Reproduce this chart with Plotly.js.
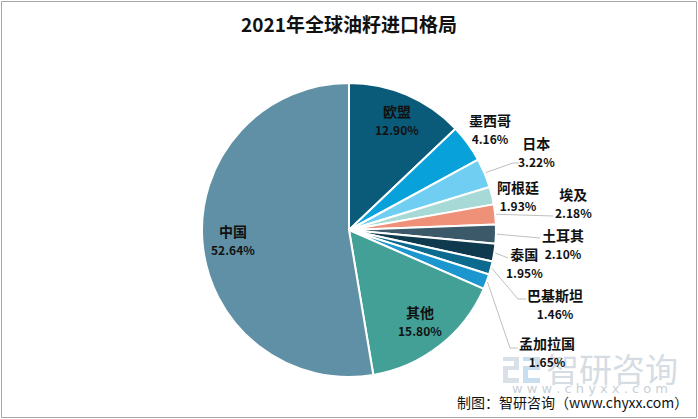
<!DOCTYPE html>
<html><head><meta charset="utf-8">
<script src="https://cdn.plot.ly/plotly-3.0.1.min.js"></script>
<style>html,body{margin:0;padding:0;background:#fff}#chart{width:698px;height:419px}</style>
</head><body><div id="chart"></div>
<script>
// ---- data ----
const categories = ['欧盟','墨西哥','日本','阿根廷','埃及','土耳其','泰国','巴基斯坦','孟加拉国','其他','中国'];
const shares = [12.90, 4.16, 3.22, 1.93, 2.18, 2.10, 1.95, 1.46, 1.65, 15.80, 52.64];
const titleText = '2021年全球油籽进口格局';
const sourceText = '制图：智研咨询（www.chyxx.com）';

// ---- style ----
const sliceColors = ['#0a5a7a','#08a1da','#6fcef2','#a7dad6','#ef9178','#3b5968','#0f3a4e','#0b6a8e','#1b96ce','#42a097','#5f90a6'];
const W = 698, H = 419, CX = 349, CY = 230, R = 147;
const FONT = '"Microsoft YaHei","Noto Sans CJK SC",sans-serif';
const insideLabels = {'欧盟':0.82, '其他':0.78, '中国':0.79};
const outsideLabels = {
  '墨西哥':  {at:[490,128], line:null},
  '日本':    {at:[536,151], line:[[513,163],[519,163]]},
  '阿根廷':  {at:[518,196], line:null},
  '埃及':    {at:[573,203], line:[[553,216]]},
  '土耳其':  {at:[563,243], line:[[540,238]]},
  '泰国':    {at:[524,262], line:[[508,258]]},
  '巴基斯坦':{at:[555,303], line:[[518,299],[526,299]]},
  '孟加拉国':{at:[547,351], line:[[510,348],[518,348]]}
};

const px = x => x / W;
const py = y => 1 - y / H;

const total = shares.reduce((a,b)=>a+b,0);
let cum = 0;
const annotations = [];
const shapes = [];

// watermark (behind labels)
annotations.push({xref:'paper',yref:'paper',x:px(612),y:py(368),text:'智研咨询',showarrow:false,
  font:{family:FONT,size:33,color:'#d5dce3'},xanchor:'center',yanchor:'middle'});
annotations.push({xref:'paper',yref:'paper',x:px(590),y:py(388),text:'w w w . c h y x x . c o m',showarrow:false,
  font:{family:'"DejaVu Sans",sans-serif',size:13,color:'#c9d0d7'},xanchor:'center',yanchor:'middle'});
const logoPath1 = 'M '+px(503)+','+py(357)+' L '+px(519)+','+py(357)+' L '+px(519)+','+py(370)+' L '+px(508)+','+py(370)+' L '+px(508)+','+py(378)+' L '+px(519)+','+py(378)+' L '+px(519)+','+py(383)+' L '+px(503)+','+py(383)+' L '+px(503)+','+py(366)+' L '+px(514)+','+py(366)+' L '+px(514)+','+py(361)+' L '+px(503)+','+py(361)+' Z';
const logoPath2 = 'M '+px(523)+','+py(357)+' L '+px(540)+','+py(357)+' L '+px(540)+','+py(370)+' L '+px(528)+','+py(370)+' L '+px(528)+','+py(378)+' L '+px(540)+','+py(378)+' L '+px(540)+','+py(383)+' L '+px(523)+','+py(383)+' L '+px(523)+','+py(366)+' L '+px(535)+','+py(366)+' L '+px(535)+','+py(361)+' L '+px(523)+','+py(361)+' Z';
shapes.push({type:'path',xref:'paper',yref:'paper',path:logoPath1,line:{width:0},fillcolor:'#d9e0e8',layer:'below'});
shapes.push({type:'path',xref:'paper',yref:'paper',path:logoPath2,line:{width:0},fillcolor:'#c9dff0',layer:'below'});

categories.forEach((name, i) => {
  const mid = (cum + shares[i] / 2) / total * 2 * Math.PI;
  cum += shares[i];
  const label = '<b>' + name + '</b><br><b><span style="font-size:12px">' + shares[i].toFixed(2) + '%</span></b>';
  if (insideLabels[name] !== undefined) {
    const f = insideLabels[name];
    annotations.push({xref:'paper',yref:'paper',
      x:px(CX + f*R*Math.sin(mid)), y:py(CY - f*R*Math.cos(mid)),
      text:label, showarrow:false, align:'center', xanchor:'center', yanchor:'middle',
      font:{family:FONT,size:14,color:'#111'}});
  } else {
    const cfg = outsideLabels[name];
    annotations.push({xref:'paper',yref:'paper',x:px(cfg.at[0]),y:py(cfg.at[1]),
      text:label, showarrow:false, align:'center', xanchor:'center', yanchor:'middle',
      font:{family:FONT,size:14,color:'#111'}});
    if (cfg.line) {
      const sx = CX + (R+1)*Math.sin(mid), sy = CY - (R+1)*Math.cos(mid);
      let p = 'M ' + px(sx) + ',' + py(sy);
      cfg.line.forEach(pt => { p += ' L ' + px(pt[0]) + ',' + py(pt[1]); });
      shapes.push({type:'path',xref:'paper',yref:'paper',path:p,line:{color:'#bfbfbf',width:1}});
    }
  }
});

annotations.push({xref:'paper',yref:'paper',x:px(690),y:py(402),text:sourceText,showarrow:false,
  xanchor:'right',yanchor:'middle',font:{family:FONT,size:14,color:'#111'}});

shapes.push({type:'rect',xref:'paper',yref:'paper',x0:px(1.5),x1:px(W-1.5),y0:py(H-1.5),y1:py(1.5),
  line:{color:'#a6a6a6',width:1}});

const trace = {
  type:'pie', labels:categories, values:shares, sort:false, direction:'clockwise', rotation:0,
  marker:{colors:sliceColors, line:{color:'#ffffff', width:2}},
  textinfo:'none', hoverinfo:'label+value', showlegend:false,
  domain:{x:[px(CX-R), px(CX+R)], y:[py(CY+R), py(CY-R)]}
};

const layout = {
  width:W, height:H, margin:{l:0,r:0,t:0,b:0},
  paper_bgcolor:'#ffffff', plot_bgcolor:'#ffffff',
  title:{text:'<b>'+titleText+'</b>', x:0.5, xanchor:'center', y:py(25), yanchor:'middle',
    font:{family:FONT,size:19,color:'#111'}},
  annotations:annotations, shapes:shapes, showlegend:false
};
Plotly.newPlot('chart',[trace],layout,{displayModeBar:false,staticPlot:true});
</script></body></html>
